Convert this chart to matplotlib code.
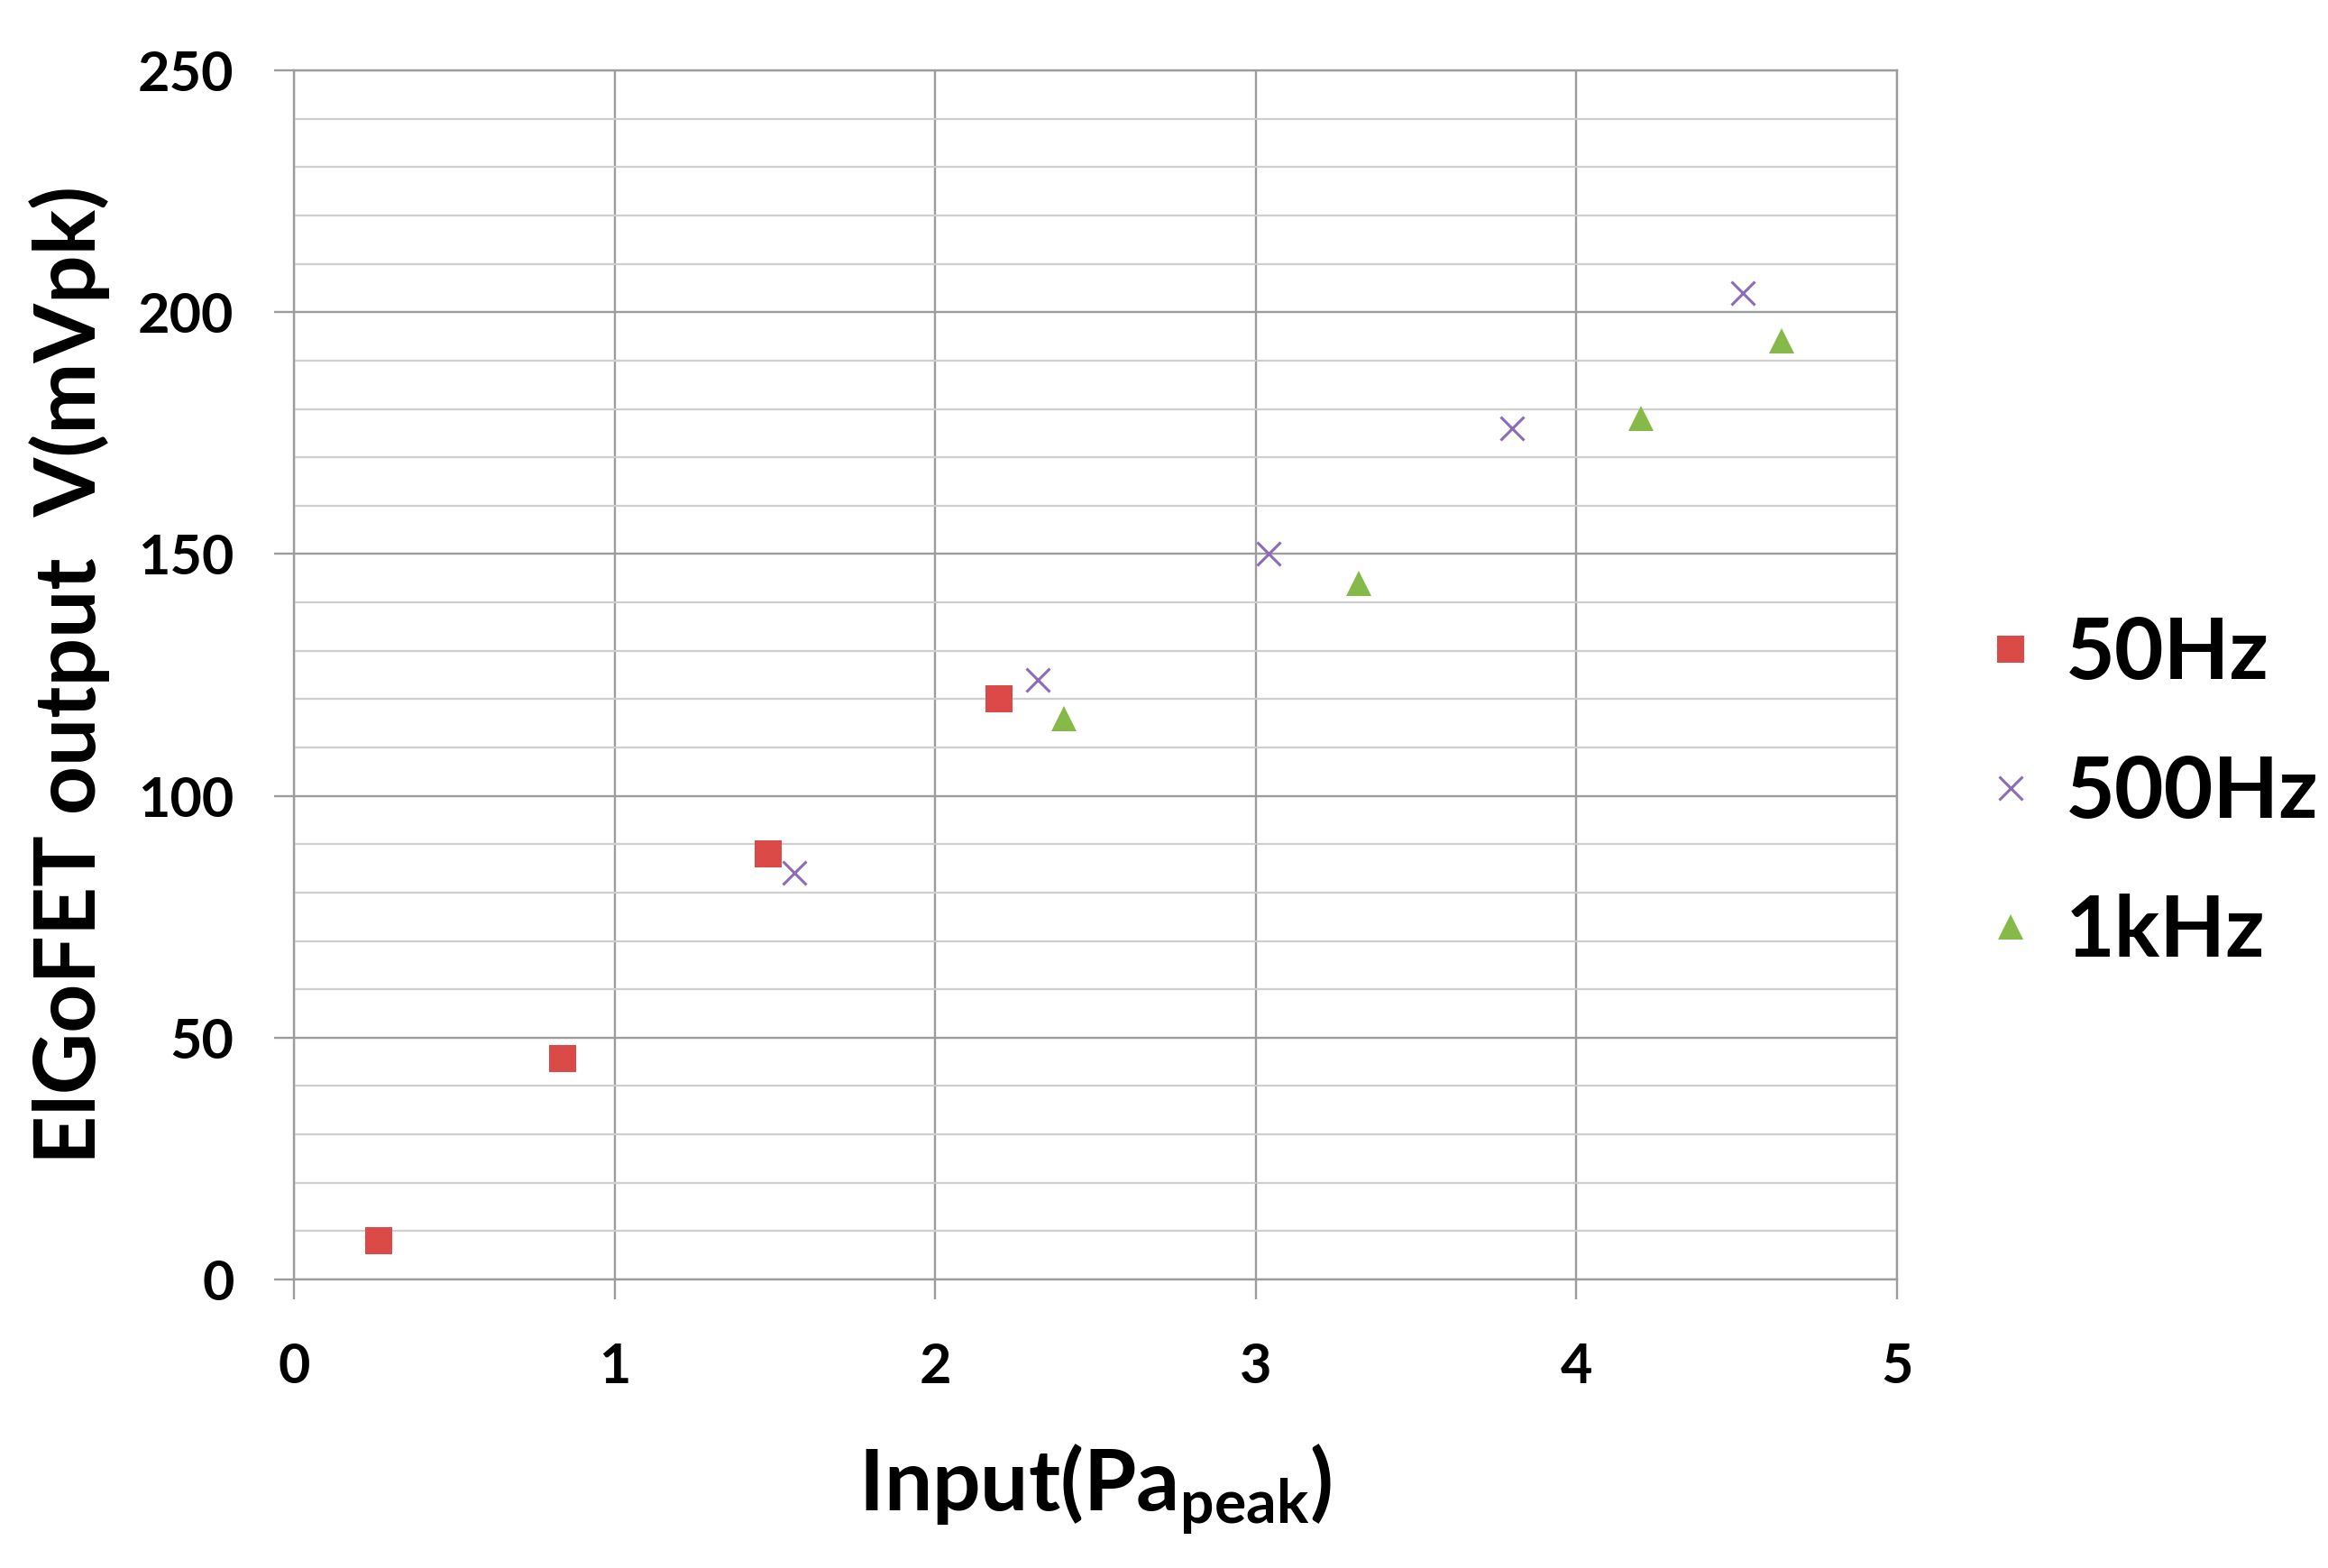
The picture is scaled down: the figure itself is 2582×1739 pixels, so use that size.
import matplotlib
matplotlib.use("Agg")
import matplotlib.pyplot as plt
from matplotlib.ticker import MultipleLocator

plt.rcParams['font.family'] = ['Lato', 'DejaVu Sans']
plt.rcParams['font.weight'] = 'bold'
plt.rcParams['axes.labelweight'] = 'bold'
plt.rcParams['mathtext.fontset'] = 'custom'
plt.rcParams['mathtext.rm'] = 'Lato:bold'
plt.rcParams['mathtext.default'] = 'rm'

# data
x_50hz = [0.264, 0.839, 1.48, 2.20]
y_50hz = [8, 45.6, 88, 120]

x_500hz = [1.56, 2.32, 3.04, 3.80, 4.52]
y_500hz = [84, 124, 150, 176, 204]

x_1khz = [2.40, 3.32, 4.20, 4.64]
y_1khz = [116, 144, 178, 194]

series_labels = ["50Hz", "500Hz", "1kHz"]
x_ticks = [0, 1, 2, 3, 4, 5]
y_ticks = [0, 50, 100, 150, 200, 250]

red = "#DC4A47"
purple = "#8C6BB8"
green = "#86BA48"
major_grey = "#9C9C9C"
minor_grey = "#CFCFCF"

fig = plt.figure(figsize=(25.82, 17.39), dpi=100)
ax = fig.add_axes([0.1263, 0.184, 0.6886, 0.7711])

ax.plot(x_50hz, y_50hz, linestyle="none", marker="s", markersize=21,
        color=red, markeredgewidth=0, label=series_labels[0], zorder=3)
ax.plot(x_500hz, y_500hz, linestyle="none", marker="x", markersize=19,
        color=purple, markeredgewidth=2.2, label=series_labels[1], zorder=3)
ax.plot(x_1khz, y_1khz, linestyle="none", marker="^", markersize=20,
        color=green, markeredgewidth=0, label=series_labels[2], zorder=3)

ax.set_xlim(0, 5)
ax.set_ylim(0, 250)
ax.set_xticks(x_ticks)
ax.set_yticks(y_ticks)
ax.yaxis.set_minor_locator(MultipleLocator(10))

ax.grid(which="major", color=major_grey, linewidth=1.7)
ax.grid(which="minor", axis="y", color=minor_grey, linewidth=1.6)
ax.set_axisbelow(True)

for s in ax.spines.values():
    s.set_color(major_grey)
    s.set_linewidth(1.7)

ax.tick_params(which="major", length=16, width=1.7, color=major_grey,
               labelsize=44, direction="out")
ax.tick_params(axis="y", pad=32)
ax.tick_params(axis="x", pad=34)
ax.tick_params(which="minor", length=0)

ax.set_xlabel("Input(Pa$_{\\mathregular{peak}}$)", fontsize=68,
              fontweight="bold", labelpad=40)
ax.set_ylabel("ElGoFET output  V(mVpk)", fontsize=68,
              fontweight="bold", labelpad=22)

fig.legend(loc="center left", bbox_to_anchor=(0.8544, 0.494),
           frameon=False, fontsize=68, handlelength=0.5,
           handletextpad=0.4, labelspacing=0.72, borderpad=0,
           borderaxespad=0)

fig.savefig("out.png", dpi=100)
